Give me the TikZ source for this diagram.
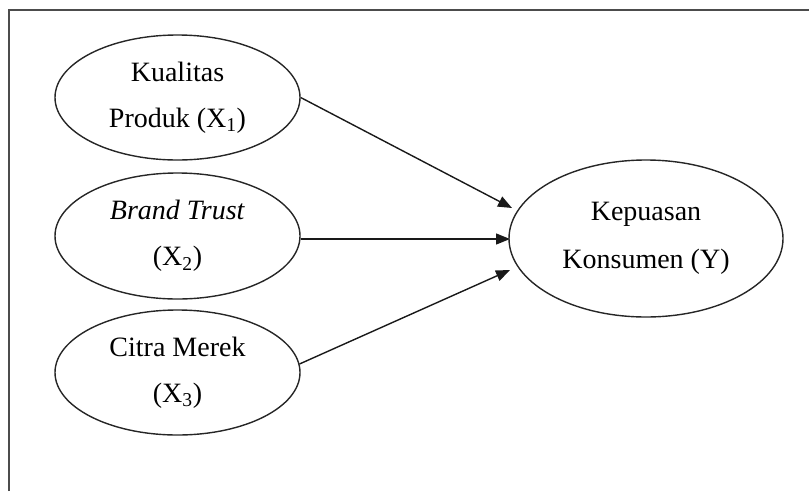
\documentclass[tikz,border=0pt]{standalone}
\usepackage{fontspec}
\setmainfont{Liberation Serif}
\usetikzlibrary{shapes.geometric,arrows.meta}
\begin{document}
\begin{tikzpicture}[x=1pt,y=-1pt,
  ell/.style={draw=black!85, line width=1.4pt, ellipse, inner sep=0pt,
    align=center, font=\fontsize{28}{46}\selectfont},
  arr/.style={draw=black!90, line width=1.4pt, -{Triangle[length=14pt,width=11pt]}},
  frame/.style={draw=black!70, line width=2pt}]
\useasboundingbox (0,0) rectangle (809,491);
\coordinate (fb) at (9,491);
\coordinate (fc) at (9,10);
\coordinate (fr) at (809,10);
\draw[frame] (fb) -- (fc) -- (fr);
\node[ell, minimum width=245pt, minimum height=125pt] (E1) at (177.5,97.5) {Kualitas\\Produk (X\textsubscript{1})};
\node[ell, minimum width=245pt, minimum height=126pt] (E2) at (177.5,236) {\textit{Brand Trust}\\(X\textsubscript{2})};
\node[ell, minimum width=245pt, minimum height=125pt] (E3) at (177.5,372.5) {Citra Merek\\(X\textsubscript{3})};
\node[ell, minimum width=274pt, minimum height=157pt, font=\fontsize{28}{48}\selectfont] (Y) at (646,238.5) {Kepuasan\\Konsumen (Y)};
\coordinate (t1) at (512,208);
\coordinate (t2) at (510,239);
\coordinate (t3) at (510,270);
\draw[arr] (E1.east) -- (t1);
\draw[arr] (E2.east |- t2) -- (t2);
\draw[arr] (E3.4.5) -- (t3);
\end{tikzpicture}
\end{document}
